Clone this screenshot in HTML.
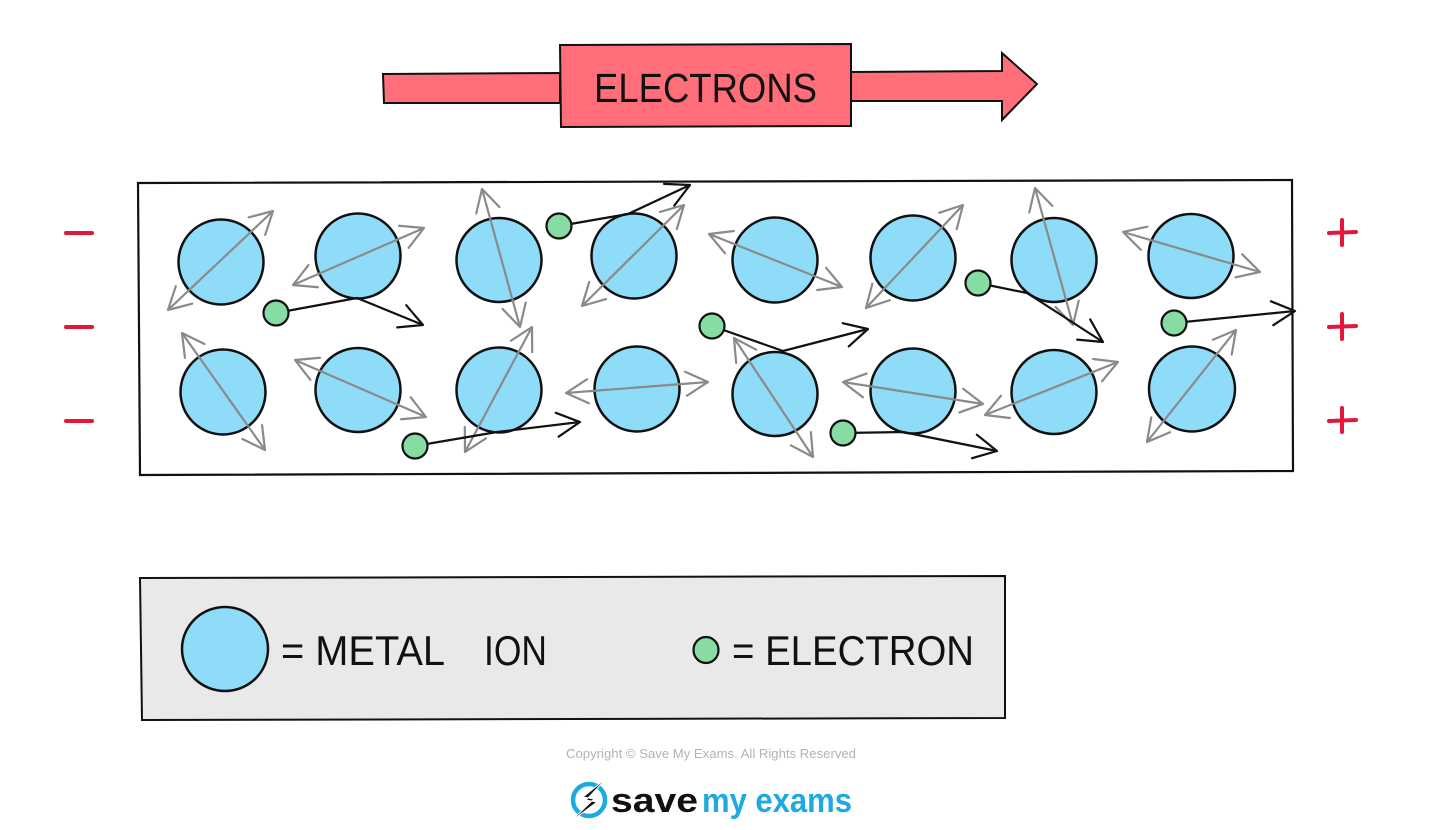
<!DOCTYPE html>
<html>
<head>
<meta charset="utf-8">
<style>
html,body{margin:0;padding:0;background:#fff;}
svg{display:block;}
text{font-family:"Liberation Sans","DejaVu Sans",sans-serif;}
</style>
</head>
<body>
<svg width="1444" height="830" viewBox="0 0 1444 830" xmlns="http://www.w3.org/2000/svg">
<defs>
  <marker id="ga" viewBox="0 0 28 28" refX="26" refY="14" markerWidth="28" markerHeight="28" markerUnits="userSpaceOnUse" orient="auto-start-reverse" overflow="visible">
    <path d="M4,2 L26,14 L4,26" fill="none" stroke="#8a8a8a" stroke-width="2.2" stroke-linecap="round" stroke-linejoin="round"/>
  </marker>
  <marker id="ba" viewBox="0 0 28 28" refX="26" refY="14" markerWidth="28" markerHeight="28" markerUnits="userSpaceOnUse" orient="auto" overflow="visible">
    <path d="M3,2 L26,14 L3,26" fill="none" stroke="#111" stroke-width="2.2" stroke-linecap="round" stroke-linejoin="round"/>
  </marker>
</defs>

<!-- top arrow -->
<polygon points="383,74 560,73 560,103 384,103" fill="#ff6e79" stroke="#111" stroke-width="2"/>
<polygon points="850,72 1002,71 1002,53 1037,84 1002,120 1002,101 850,101" fill="#ff6e79" stroke="#111" stroke-width="2" stroke-linejoin="miter"/>
<polygon points="560,45 851,44 851,126 561,127" fill="#ff6e79" stroke="#111" stroke-width="2"/>
<text x="594" y="102" font-size="41" fill="#111" textLength="223" lengthAdjust="spacingAndGlyphs">ELECTRONS</text>

<!-- main box -->
<polygon points="138,183 1292,180 1293,471 140,475" fill="#fff" stroke="#111" stroke-width="2.2"/>

<!-- signs -->
<g stroke="#e3163c" stroke-width="4" stroke-linecap="round">
  <line x1="66" y1="233" x2="92" y2="233"/>
  <line x1="66" y1="327" x2="92" y2="327"/>
  <line x1="66" y1="421" x2="92" y2="421"/>
  <line x1="1329" y1="233" x2="1356" y2="232"/>
  <line x1="1342" y1="220" x2="1342" y2="245"/>
  <line x1="1329" y1="327" x2="1356" y2="326"/>
  <line x1="1342" y1="314" x2="1342" y2="339"/>
  <line x1="1329" y1="421" x2="1356" y2="420"/>
  <line x1="1342" y1="408" x2="1342" y2="432"/>
</g>

<!-- ions -->
<g fill="#8edcf8" stroke="#111" stroke-width="2.5">
  <ellipse cx="221" cy="262" rx="42.5" ry="42.5"/>
  <ellipse cx="358" cy="256" rx="42.5" ry="42.5"/>
  <ellipse cx="499" cy="260" rx="42.5" ry="42"/>
  <ellipse cx="634" cy="256" rx="42.5" ry="42.5"/>
  <ellipse cx="775" cy="260" rx="42.5" ry="42.5"/>
  <ellipse cx="913" cy="258" rx="42.5" ry="42.5"/>
  <ellipse cx="1054" cy="260" rx="42.5" ry="42"/>
  <ellipse cx="1191" cy="256" rx="42.5" ry="42"/>
  <ellipse cx="223" cy="392" rx="42.5" ry="42.5"/>
  <ellipse cx="358" cy="390" rx="42.5" ry="42"/>
  <ellipse cx="499" cy="390" rx="42.5" ry="42.5"/>
  <ellipse cx="637" cy="389" rx="42.5" ry="42.5"/>
  <ellipse cx="775" cy="394" rx="42.5" ry="42"/>
  <ellipse cx="913" cy="391" rx="42.5" ry="42.5"/>
  <ellipse cx="1054" cy="392" rx="42.5" ry="42"/>
  <ellipse cx="1192" cy="389" rx="43" ry="42.5"/>
</g>

<!-- gray vibration arrows -->
<g stroke="#8a8a8a" stroke-width="2.2" fill="none" marker-start="url(#ga)" marker-end="url(#ga)">
  <line x1="168" y1="310" x2="273" y2="211"/>
  <line x1="293" y1="285" x2="424" y2="228"/>
  <line x1="482" y1="189" x2="520" y2="327"/>
  <line x1="182" y1="333" x2="265" y2="450"/>
  <line x1="295" y1="360" x2="426" y2="417"/>
  <line x1="532" y1="327" x2="465" y2="452"/>
  <line x1="582" y1="306" x2="684" y2="205"/>
  <line x1="709" y1="234" x2="842" y2="287"/>
  <line x1="866" y1="308" x2="963" y2="205"/>
  <line x1="566" y1="393" x2="708" y2="382"/>
  <line x1="734" y1="338" x2="813" y2="457"/>
  <line x1="843" y1="382" x2="983" y2="404"/>
  <line x1="1035" y1="188" x2="1073" y2="325"/>
  <line x1="1123" y1="232" x2="1260" y2="272"/>
  <line x1="985" y1="415" x2="1118" y2="362"/>
  <line x1="1147" y1="442" x2="1236" y2="330"/>
</g>

<!-- electron paths -->
<g stroke="#111" stroke-width="2.2" fill="none" stroke-linejoin="round" marker-end="url(#ba)">
  <polyline points="276,313 357,298 423,325"/>
  <polyline points="559,226 628,214 690,185"/>
  <polyline points="415,446 497,432 580,422"/>
  <polyline points="712,326 783,351 868,329"/>
  <polyline points="978,283 1027,293 1103,342"/>
  <polyline points="843,433 903,432 997,451"/>
  <polyline points="1174,323 1295,311"/>
</g>

<!-- electrons -->
<g fill="#86dca2" stroke="#111" stroke-width="2.2">
  <circle cx="276" cy="313" r="12.5"/>
  <circle cx="559" cy="226" r="12.5"/>
  <circle cx="415" cy="446" r="12.5"/>
  <circle cx="712" cy="326" r="12.5"/>
  <circle cx="978" cy="283" r="12.5"/>
  <circle cx="843" cy="433" r="12.5"/>
  <circle cx="1174" cy="323" r="12.5"/>
</g>

<!-- legend -->
<polygon points="140,578 1005,576 1005,718 142,720" fill="#e9e9e9" stroke="#111" stroke-width="2"/>
<ellipse cx="225" cy="649" rx="43" ry="42" fill="#8edcf8" stroke="#111" stroke-width="2.5"/>
<text x="281" y="665" font-size="42" fill="#111" textLength="164" lengthAdjust="spacingAndGlyphs">= METAL</text>
<text x="484" y="665" font-size="42" fill="#111" textLength="63" lengthAdjust="spacingAndGlyphs">ION</text>
<ellipse cx="706" cy="650" rx="12.5" ry="13" fill="#86dca2" stroke="#111" stroke-width="2.2"/>
<text x="732" y="665" font-size="42" fill="#111" textLength="242" lengthAdjust="spacingAndGlyphs">= ELECTRON</text>

<!-- footer -->
<text x="566" y="758" font-size="12.5" fill="#b3b3b3" textLength="290" lengthAdjust="spacingAndGlyphs">Copyright © Save My Exams. All Rights Reserved</text>
<circle cx="589" cy="800" r="16" fill="none" stroke="#1ea9e1" stroke-width="4.5"/>
<polygon points="608,777 583,797 594,799 570,822 597,802 586,800" fill="#111" stroke="#fff" stroke-width="1"/>
<text x="611" y="812" font-size="34" font-weight="bold" fill="#111" textLength="87" lengthAdjust="spacingAndGlyphs">save</text>
<text x="702" y="812" font-size="34" font-weight="bold" fill="#1ea9e1" textLength="150" lengthAdjust="spacingAndGlyphs">my exams</text>
</svg>
</body>
</html>
